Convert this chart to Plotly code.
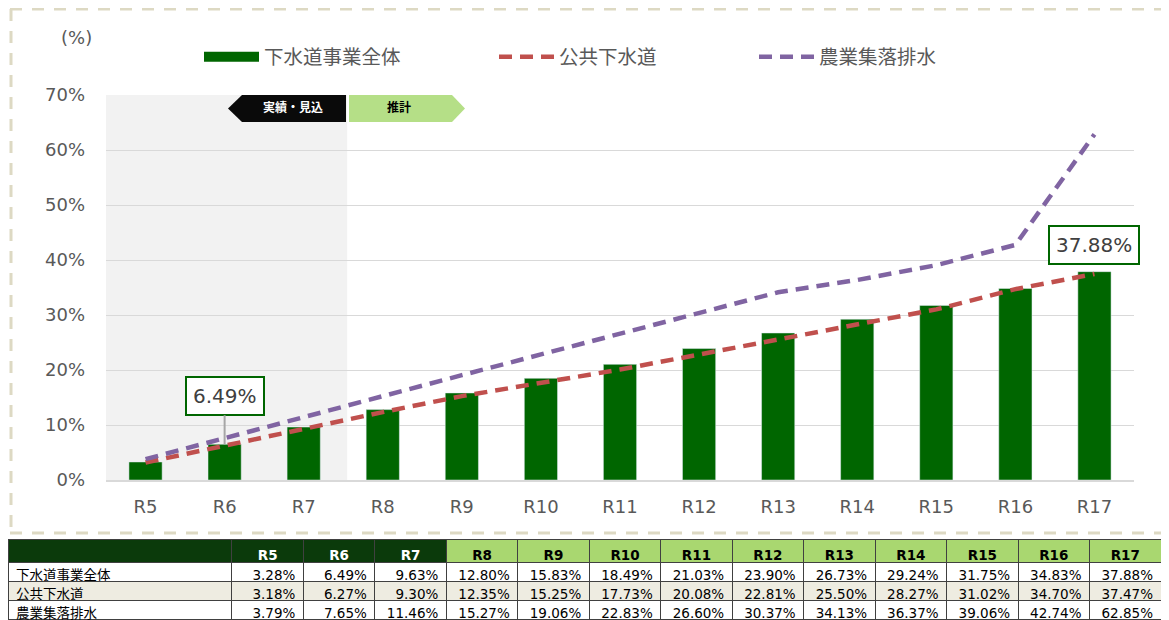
import plotly.graph_objects as go

# page body has an 8px margin, so the figure is drawn 8px in from the window edge
OFF = 8
W, H = 1169 - OFF, 620 - OFF

years = ["R5", "R6", "R7", "R8", "R9", "R10", "R11", "R12", "R13", "R14", "R15", "R16", "R17"]
total = [3.28, 6.49, 9.63, 12.80, 15.83, 18.49, 21.03, 23.90, 26.73, 29.24, 31.75, 34.83, 37.88]
public = [3.18, 6.27, 9.30, 12.35, 15.25, 17.73, 20.08, 22.81, 25.50, 28.27, 31.02, 34.70, 37.47]
rural = [3.79, 7.65, 11.46, 15.27, 19.06, 22.83, 26.60, 30.37, 34.13, 36.37, 39.06, 42.74, 62.85]
names = ["下水道事業全体", "公共下水道", "農業集落排水"]
n_actual = 3  # R5-R7 are 実績・見込

GREEN = "#006600"
RED = "#c0504d"
PURPLE = "#8064a2"
GRAY_TXT = "#595959"
FONT = "DejaVu Sans, Noto Sans CJK JP"


def px(x):
    # window pixel -> paper fraction
    return (x - OFF) / W


def py(y):
    return 1 - (y - OFF) / H


fig = go.Figure()

fig.add_trace(go.Bar(x=years, y=total, name=names[0], marker_color=GREEN,
                     width=0.42, showlegend=False))
# wide legend swatch for the bar series
fig.add_trace(go.Scatter(x=[None], y=[None], mode="lines", name=names[0],
                         line=dict(color=GREEN, width=14), legend="legend"))
fig.add_trace(go.Scatter(x=years, y=public, mode="lines", name=names[1],
                         line=dict(color=RED, width=4.5, dash="13px,8px"), legend="legend2"))
fig.add_trace(go.Scatter(x=years, y=rural, mode="lines", name=names[2],
                         line=dict(color=PURPLE, width=4.5, dash="13px,8px"), legend="legend3"))

# table under the chart: header strip + data rows as two tables.
# plotly always keeps a ~16px header band, so it is made invisible and pushed above.
DARK, LIGHT, BEIGE = "#0b3a0b", "#a9d770", "#eeece1"
NOHDR = dict(values=[], height=0, fill_color="rgba(0,0,0,0)",
             line=dict(color="rgba(0,0,0,0)", width=0))
HB = 16
colw = [224] + [71.5] * len(years)
tx = [px(8), px(1161)]
hdr_fill = [DARK] * (n_actual + 1) + [LIGHT] * (len(years) - n_actual)
hdr_font = ["white"] * (n_actual + 1) + ["black"] * (len(years) - n_actual)
fig.add_trace(go.Table(
    domain=dict(x=tx, y=[py(562), py(539 - HB)]),
    columnwidth=colw,
    header=NOHDR,
    cells=dict(values=[[""]] + [[f"<b>{y}</b>"] for y in years],
               fill_color=hdr_fill, align="center", height=23,
               font=dict(color=hdr_font, size=13.5, family=FONT),
               line=dict(color="#404040", width=1)),
))
cols = [names] + [[f"{a:.2f}%", f"{b:.2f}%", f"{c:.2f}%"] for a, b, c in zip(total, public, rural)]
fig.add_trace(go.Table(
    domain=dict(x=tx, y=[0, py(562 - HB)]),
    columnwidth=colw,
    header=NOHDR,
    cells=dict(values=cols, fill_color=[["white", BEIGE, "white"]] * (len(years) + 1),
               align=["left"] + ["right"] * len(years), height=19,
               font=dict(color="black", size=13.5, family=FONT),
               line=dict(color="#404040", width=1)),
))

shapes = [
    # 実績 period background
    dict(type="rect", xref="x", yref="y", x0=-0.5, x1=n_actual - 0.45, y0=0, y1=70,
         fillcolor="#f2f2f2", line_width=0, layer="below"),
    # arrows
    dict(type="path", xref="paper", yref="paper",
         path=f"M{px(346)},{py(95)} L{px(242)},{py(95)} L{px(228)},{py(108.5)} "
              f"L{px(242)},{py(122)} L{px(346)},{py(122)} Z",
         fillcolor="#0a0a0a", line_width=0),
    dict(type="path", xref="paper", yref="paper",
         path=f"M{px(349)},{py(95)} L{px(452)},{py(95)} L{px(465)},{py(108.5)} "
              f"L{px(452)},{py(122)} L{px(349)},{py(122)} Z",
         fillcolor="#b5df87", line_width=0),
]
# dashed frame (top, left, bottom)
for x0, y0, x1, y1 in [(10, 9, 1169, 9), (11, 9, 11, 530), (10, 533, 1169, 533)]:
    shapes.append(dict(type="line", xref="paper", yref="paper",
                       x0=px(x0), y0=py(y0), x1=px(x1), y1=py(y1),
                       line=dict(color="#ddd9c3", width=3, dash="12px,10px")))

annotations = [
    dict(text="(%)", xref="paper", yref="paper", x=px(76), y=py(37),
         xanchor="center", yanchor="middle",
         showarrow=False, font=dict(size=18, color=GRAY_TXT)),
    dict(text="<b>実績・見込</b>", xref="paper", yref="paper", x=px(293), y=py(107),
         xanchor="center", yanchor="middle",
         showarrow=False, font=dict(size=12, color="white", family="Noto Sans CJK JP")),
    dict(text="<b>推計</b>", xref="paper", yref="paper", x=px(399), y=py(107),
         xanchor="center", yanchor="middle",
         showarrow=False, font=dict(size=12, color="black", family="Noto Sans CJK JP")),
    dict(text=f"{total[1]:.2f}%", x=years[1], y=total[1], showarrow=True, ax=0, ay=-48,
         arrowhead=0, arrowwidth=2, arrowcolor="#a6a6a6",
         bgcolor="white", bordercolor=GREEN, borderwidth=2, borderpad=6,
         font=dict(size=20, color="#404040")),
    dict(text=f"{total[-1]:.2f}%", x=years[-1], y=total[-1], showarrow=False,
         yanchor="bottom", yshift=7,
         bgcolor="white", bordercolor=GREEN, borderwidth=2, borderpad=6,
         font=dict(size=20, color="#404040")),
]

leg = dict(orientation="h", yanchor="middle", y=py(57), xanchor="left", itemwidth=55,
           font=dict(size=19.5, color=GRAY_TXT), bgcolor="rgba(0,0,0,0)")

fig.update_layout(
    width=W, height=H,
    margin=dict(l=0, r=0, t=0, b=0, autoexpand=False),
    paper_bgcolor="white", plot_bgcolor="white",
    font=dict(family=FONT, color=GRAY_TXT),
    xaxis=dict(domain=[px(106), px(1134)], range=[-0.5, len(years) - 0.5],
               showgrid=False, showline=True,
               linecolor="#d9d9d9", linewidth=2, tickfont=dict(size=18, color=GRAY_TXT),
               ticklabelstandoff=9, fixedrange=True),
    yaxis=dict(domain=[py(480), py(95)], range=[0, 70], dtick=10, ticksuffix="%",
               gridcolor="#d9d9d9", gridwidth=1, zeroline=False,
               tickfont=dict(size=18, color=GRAY_TXT), ticklabelstandoff=20),
    legend=dict(leg, x=px(199)),
    legend2=dict(leg, x=px(494)),
    legend3=dict(leg, x=px(754)),
    shapes=shapes,
    annotations=annotations,
)

fig.write_html("out.html")
